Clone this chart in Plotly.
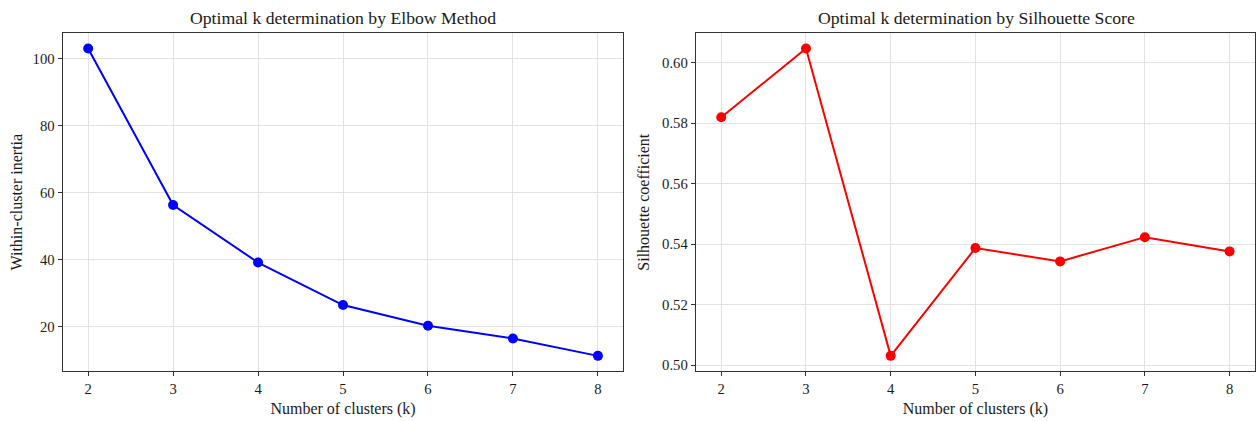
import plotly.graph_objects as go

k_values = [2, 3, 4, 5, 6, 7, 8]
inertia = [103.1, 56.3, 39.1, 26.4, 20.2, 16.4, 11.2]
silhouette = [0.5819, 0.6046, 0.5031, 0.5387, 0.5343, 0.5423, 0.5376]

left_title = "Optimal k determination by Elbow Method"
right_title = "Optimal k determination by Silhouette Score"
x_label = "Number of clusters (k)"
left_ylabel = "Within-cluster inertia"
right_ylabel = "Silhouette coefficient"

FONT = "Liberation Serif, Times New Roman, serif"
W, H = 1256, 421

fig = go.Figure()
fig.add_trace(go.Scatter(x=k_values, y=inertia, mode="lines+markers",
                         line=dict(color="#0000ff", width=2),
                         marker=dict(color="#0000ff", size=10),
                         xaxis="x", yaxis="y", showlegend=False))
fig.add_trace(go.Scatter(x=k_values, y=silhouette, mode="lines+markers",
                         line=dict(color="#ff0000", width=2),
                         marker=dict(color="#ff0000", size=10),
                         xaxis="x2", yaxis="y2", showlegend=False))

def pad(vals, frac=0.05):
    lo, hi = min(vals), max(vals)
    d = (hi - lo) * frac
    return [lo - d, hi + d]

axis_common = dict(showline=True, linecolor="#333333", linewidth=1.2, mirror=True,
                   ticks="outside", ticklen=4, tickcolor="#333333",
                   showgrid=True, gridcolor="#e3e3e3", gridwidth=1,
                   zeroline=False, tickfont=dict(family=FONT, size=14.7, color="#1a1a1a"),
                   title_font=dict(family=FONT, size=16, color="#1a1a1a"))

ytop = 1 - 33.3 / H
ybot = 1 - 373 / H

fig.update_layout(
    width=W, height=H,
    margin=dict(l=0, r=0, t=0, b=0),
    paper_bgcolor="white", plot_bgcolor="white",
    font=dict(family=FONT, color="#1a1a1a"),
    xaxis=dict(domain=[62.7 / W, 623.9 / W], range=[1.7, 8.3], tickvals=k_values,
               anchor="y", title=dict(text=x_label, standoff=6), **axis_common),
    yaxis=dict(domain=[ybot, ytop], range=pad(inertia), tickvals=[20, 40, 60, 80, 100],
               anchor="x", title=dict(text=left_ylabel, standoff=5), **axis_common),
    xaxis2=dict(domain=[696.4 / W, 1.0], range=[1.7, 8.3], tickvals=k_values,
                anchor="y2", title=dict(text=x_label, standoff=6), **axis_common),
    yaxis2=dict(domain=[ybot, ytop], range=pad(silhouette),
                tickvals=[0.50, 0.52, 0.54, 0.56, 0.58, 0.60], tickformat=".2f",
                anchor="x2", title=dict(text=right_ylabel, standoff=8), **axis_common),
    annotations=[
        dict(text=left_title, x=(62.7 + 623.9) / 2 / W, y=1 - 18 / H, xref="paper", yref="paper",
             showarrow=False, xanchor="center", yanchor="middle",
             font=dict(family=FONT, size=17.7, color="#1a1a1a")),
        dict(text=right_title, x=(696.4 + 1258.5) / 2 / W, y=1 - 18 / H, xref="paper", yref="paper",
             showarrow=False, xanchor="center", yanchor="middle",
             font=dict(family=FONT, size=17.7, color="#1a1a1a")),
    ],
)

fig.write_html("out.html", config={"displayModeBar": False},
               post_script="document.body.style.margin='0px';document.body.style.overflow='hidden';")
